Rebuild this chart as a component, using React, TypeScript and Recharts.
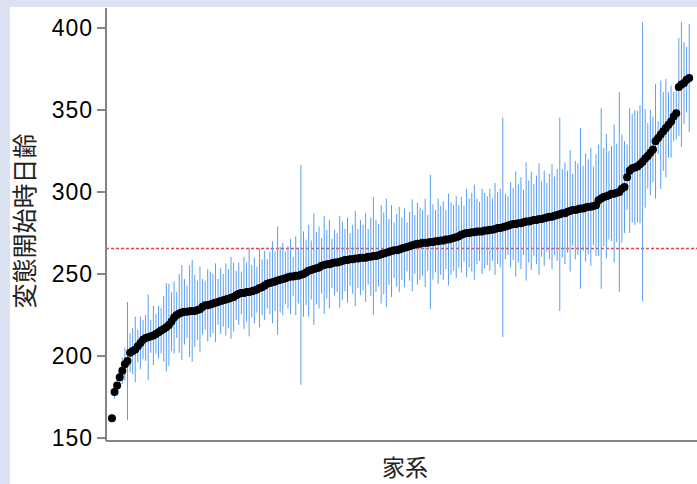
import { ScatterChart, Scatter, XAxis, YAxis, ErrorBar, ReferenceLine } from 'recharts';

// 家系ごとの変態開始時日齢（平均値, 昇順）
const meanDays = [
  162, 178, 182, 187, 191, 195, 197, 202, 203, 204,
  206, 208, 210, 211, 211.5, 212, 212.5, 213.5, 214.5, 215.5,
  216.5, 217.5, 219, 221, 223.5, 225, 226, 226.5, 227, 227,
  227.3, 227.5, 227.5, 228, 228.5, 230, 231, 231, 231.5, 232,
  232.5, 233, 233.5, 234, 234.5, 235, 235.5, 236, 237, 238,
  238.5, 238.5, 239, 239, 239.5, 240, 240.5, 241.5, 242, 243,
  244, 244.5, 245, 245.5, 246, 246.5, 247, 247.5, 248, 248.5,
  248.5, 249, 249, 249.5, 250, 251, 252, 252.5, 253, 253.5,
  254, 255, 255.5, 256, 256, 256.5, 257, 257, 257.5, 258,
  258.5, 258.5, 259, 259, 259.5, 259.5, 260, 260, 260, 260.5,
  260.5, 261, 261, 261.5, 262, 262.5, 263, 263.5, 264, 264.5,
  264.5, 265, 265.5, 266, 266.5, 267, 267.5, 268, 268.5, 268.5,
  269, 269, 269, 269.5, 269.5, 270, 270, 270.5, 270.5, 271,
  271, 271.5, 272, 272.5, 273, 274, 274.5, 275, 275, 275.5,
  275.5, 276, 276, 276, 276.5, 276.5, 277, 277, 277.5, 278,
  278, 278.5, 279, 279.5, 280, 280.5, 280.5, 281, 281, 281.5,
  282, 282, 282.5, 283, 283, 283.5, 283.5, 284, 284.5, 285,
  285, 285.5, 286, 286.5, 287, 287, 288, 288.5, 289, 289,
  289.5, 290, 290, 290.5, 291, 291, 291.5, 292, 295, 296,
  297, 297.5, 298, 299, 299, 299.5, 300, 302, 303, 309,
  313, 314.5, 315, 315.5, 317, 318.5, 320.5, 322, 324, 326,
  331, 333, 335, 337, 339, 341, 343, 346, 348, 364,
  365.5, 366.5, 368.5, 369.5,
];

// 誤差範囲（片側）
const errDays = [
  0, 4, 5, 6, 8, 10, 36, 12, 14, 20,
  10, 16, 12, 14, 26, 10, 18, 12, 16, 14,
  20, 27, 25, 18, 22, 14, 24, 29, 20, 16,
  28, 31, 22, 18, 26, 17, 15, 22, 20, 18,
  24, 14, 20, 16, 22, 18, 25, 21, 15, 19,
  13, 22, 18, 27, 16, 20, 14, 24, 17, 21,
  15, 19, 25, 18, 33, 20, 22, 16, 19, 23,
  12, 24, 17, 67, 26, 20, 28, 18, 34, 22,
  25, 17, 30, 21, 27, 15, 20, 18, 28, 24,
  19, 26, 16, 21, 29, 18, 23, 20, 27, 17,
  24, 36, 22, 19, 30, 25, 33, 20, 28, 17,
  22, 26, 19, 24, 15, 21, 28, 18, 25, 22,
  20, 27, 17, 41, 23, 19, 26, 21, 24, 18,
  28, 22, 20, 25, 19, 23, 17, 27, 21, 24,
  29, 20, 18, 26, 23, 21, 25, 19, 28, 22,
  24, 67, 20, 18, 26, 22, 32, 24, 28, 20,
  36, 25, 30, 22, 27, 34, 23, 29, 21, 26,
  32, 24, 28, 59, 27, 31, 25, 37, 22, 30,
  28, 49, 26, 33, 29, 36, 24, 31, 34, 55,
  30, 38, 27, 29, 42, 30, 61, 33, 28, 20,
  38, 33, 35, 34, 36, 85, 30, 20, 26, 20,
  35, 10, 33, 24, 30, 20, 22, 15, 16, 30,
  38, 25, 20, 33,
];

const yTicks = [150, 200, 250, 300, 350, 400];
const overallMean = 265.5;

const data = meanDays.map((m, i) => ({ i, m, err: errDays[i] }));

const tickFont = { fill: '#000', fontSize: 23, letterSpacing: 1, fontFamily: '"Liberation Sans", Arial, sans-serif' };
const cjkFont = '"Noto Sans CJK JP", sans-serif';

const Dot = (props: any) => {
  const { cx, cy } = props;
  if (cx == null || cy == null) return null;
  return <circle cx={cx} cy={cy} r={4} fill="#000" />;
};

export default function App() {
  return (
    <div style={{ position: 'absolute', left: 0, top: 0, width: 697, height: 484, overflow: 'hidden', background: '#dbe3f3' }}>
      <div style={{ position: 'absolute', left: 10, top: 7, right: 0, bottom: 0, background: '#fff' }} />
      <div style={{ position: 'absolute', left: 0, top: 0 }}>
        <ScatterChart width={720} height={484} margin={{ top: 8, right: 0, bottom: 0, left: 10 }}>
          <XAxis
            xAxisId="top"
            orientation="top"
            type="number"
            dataKey="i"
            domain={[-2.3, 234.9]}
            height={0}
            tick={false}
            tickLine={false}
            axisLine={{ stroke: '#858585', strokeWidth: 2 }}
          />
          <XAxis
            type="number"
            dataKey="i"
            domain={[-2.3, 234.9]}
            height={43}
            tick={false}
            tickLine={false}
            axisLine={{ stroke: '#858585', strokeWidth: 2 }}
            label={({ viewBox }: any) => (
              <text x={405} y={viewBox.y + 25} textAnchor="middle" dominantBaseline="central" fontSize={23} fontFamily={cjkFont} fill="#222">
                家系
              </text>
            )}
          />
          <YAxis
            type="number"
            dataKey="m"
            domain={[148.2, 412.2]}
            allowDataOverflow
            ticks={yTicks}
            width={96}
            tick={tickFont}
            tickSize={9}
            tickMargin={4}
            tickLine={{ stroke: '#858585', strokeWidth: 2 }}
            axisLine={{ stroke: '#858585', strokeWidth: 2 }}
            label={() => (
              <text x={23} y={221} transform="rotate(-90 23 221)" textAnchor="middle" dominantBaseline="central" fontSize={25} fontFamily={cjkFont} fill="#222">
                変態開始時日齢
              </text>
            )}
          />
          <ReferenceLine y={overallMean} stroke="#e8434b" strokeWidth={1.5} strokeDasharray="3 2" />
          <Scatter data={data} shape={<Dot />} isAnimationActive={false}>
            <ErrorBar dataKey="err" direction="y" width={0} stroke="#5a9ef0" strokeWidth={1} isAnimationActive={false} />
          </Scatter>
        </ScatterChart>
      </div>
    </div>
  );
}
